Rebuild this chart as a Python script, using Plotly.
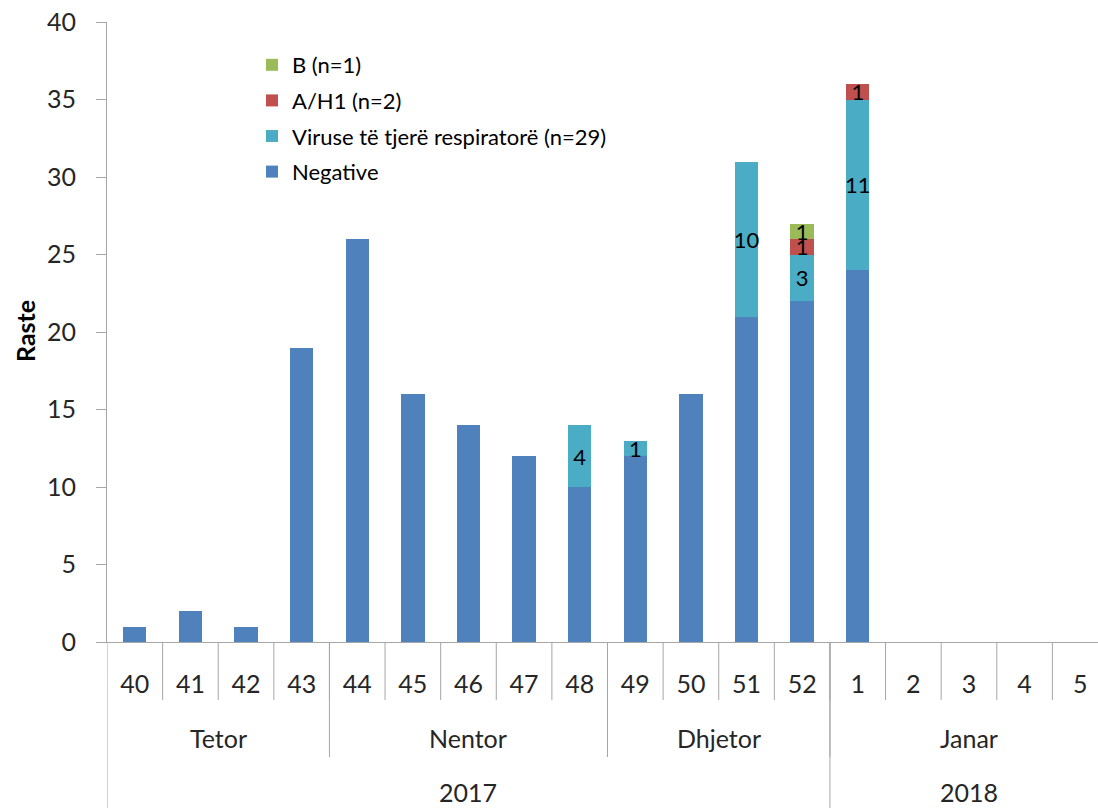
import plotly.graph_objects as go

weeks = ["40", "41", "42", "43", "44", "45", "46", "47", "48", "49", "50", "51", "52", "1", "2", "3", "4", "5"]
months = ["Tetor", "Nentor", "Dhjetor", "Janar"]
month_spans = [(0, 3), (4, 8), (9, 12), (13, 17)]
years = ["2017", "2018"]
year_spans = [(0, 12), (13, 17)]

negative = [1, 2, 1, 19, 26, 16, 14, 12, 10, 12, 16, 21, 22, 24, None, None, None, None]
viruse = [None, None, None, None, None, None, None, None, 4, 1, None, 10, 3, 11, None, None, None, None]
ah1 = [None, None, None, None, None, None, None, None, None, None, None, None, 1, 1, None, None, None, None]
b = [None, None, None, None, None, None, None, None, None, None, None, None, 1, None, None, None, None, None]

names = ["Negative", "Viruse të tjerë respiratorë (n=29)", "A/H1 (n=2)", "B (n=1)"]
colors = ["#4F81BD", "#4BACC6", "#C0504D", "#9BBB59"]

FONT = "Lato, 'Open Sans', sans-serif"
TXT = "#262626"
xs = list(range(len(weeks)))

fig = go.Figure()
for i, (nm, vals, col) in enumerate(zip(names, [negative, viruse, ah1, b], colors)):
    show_text = i > 0
    fig.add_trace(go.Bar(
        x=xs, y=vals, name=nm, marker=dict(color=col, line=dict(width=0)),
        width=0.42,
        text=[("" if v is None else str(v)) for v in vals] if show_text else None,
        textposition="inside" if show_text else "none",
        insidetextanchor="middle",
        constraintext="none",
        textangle=0,
        textfont=dict(family=FONT, size=22, color="black"),
        legendgroup=nm,
        legendrank=1000 - i,
        hoverinfo="skip",
    ))

# page pixel helpers (body margin removed; plot area spans x 107..1098, y 22..642)
PLOT_L, PLOT_W, PLOT_B, PLOT_H = 107, 991, 642, 620
def py(px):
    return (PLOT_B - px) / PLOT_H
def pxx(px):
    return (px - PLOT_L) / PLOT_W

grid_col = "#A6A6A6"
shapes = []
for i in range(1, len(weeks) + 1):
    shapes.append(dict(type="line", xref="x", yref="paper", x0=i - 0.5, x1=i - 0.5,
                       y0=0, y1=py(700), line=dict(color=grid_col, width=1)))
for s, e in month_spans[:-1]:
    shapes.append(dict(type="line", xref="x", yref="paper", x0=e + 0.5, x1=e + 0.5,
                       y0=0, y1=py(757), line=dict(color=grid_col, width=1)))
for s, e in year_spans:
    shapes.append(dict(type="line", xref="x", yref="paper", x0=e + 0.5, x1=e + 0.5,
                       y0=0, y1=py(812), line=dict(color=grid_col, width=1)))
shapes.append(dict(type="line", xref="x", yref="paper", x0=-0.5, x1=-0.5,
                   y0=0, y1=py(812), line=dict(color=grid_col, width=1)))

annotations = []
for m, (s, e) in zip(months, month_spans):
    annotations.append(dict(x=(s + e) / 2, y=py(738), xref="x", yref="paper", text=m,
                            showarrow=False, font=dict(family=FONT, size=25, color=TXT),
                            yanchor="middle"))
for yname, (s, e) in zip(years, year_spans):
    annotations.append(dict(x=(s + e) / 2, y=py(792), xref="x", yref="paper", text=yname,
                            showarrow=False, font=dict(family=FONT, size=25, color=TXT),
                            yanchor="middle"))
annotations.append(dict(x=pxx(25), y=py(331), xref="paper", yref="paper", text="<b>Raste</b>",
                        showarrow=False, textangle=-90, xanchor="center", yanchor="middle",
                        font=dict(family=FONT, size=25, color="black")))

fig.update_layout(
    width=1098, height=808,
    margin=dict(l=107, r=0, t=22, b=166),
    paper_bgcolor="white", plot_bgcolor="white",
    barmode="stack",
    shapes=shapes,
    annotations=annotations,
    font=dict(family=FONT, color=TXT),
    legend=dict(x=pxx(252), y=py(44), xanchor="left", yanchor="top",
                traceorder="grouped", font=dict(family=FONT, size=22, color="black"),
                bgcolor="rgba(0,0,0,0)", tracegroupgap=4, itemwidth=30),
    xaxis=dict(range=[-0.5, 17.32], tickvals=xs, ticktext=weeks, ticks="",
               showline=True, linecolor=grid_col, linewidth=1, showgrid=False, zeroline=False,
               automargin=False, ticklabeloverflow="allow",
               tickfont=dict(family=FONT, size=25, color=TXT), ticklabelstandoff=20),
    yaxis=dict(range=[0, 40], tickvals=list(range(0, 41, 5)), ticks="outside", ticklen=10,
               tickcolor=grid_col,
               showline=True, linecolor=grid_col, showgrid=False, zeroline=False,
               automargin=False, ticklabeloverflow="allow",
               tickfont=dict(family=FONT, size=25, color=TXT), ticklabelstandoff=15),
)

fig.write_html("out.html", config={"displayModeBar": False},
               post_script="document.body.style.margin='0px';")
